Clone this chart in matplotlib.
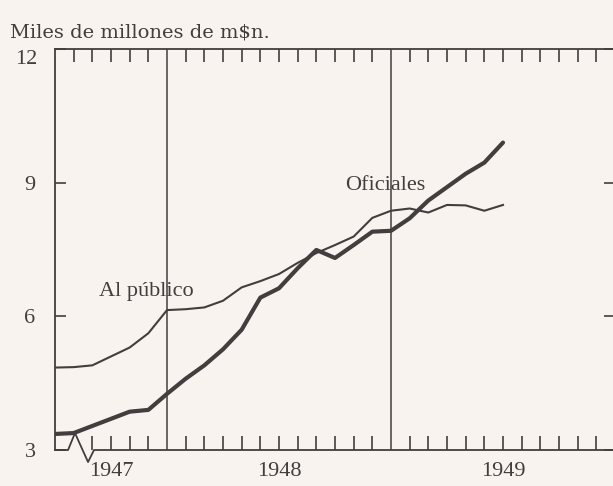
import matplotlib.pyplot as plt
from matplotlib.transforms import offset_copy

# meses contados desde enero de 1947 (6 = julio 1947, 30 = julio 1949)
meses = list(range(6, 31))
al_publico = [4.85, 4.86, 4.90, 5.10, 5.30, 5.62, 6.14, 6.16, 6.20, 6.35, 6.65, 6.79,
              6.95, 7.20, 7.42, 7.60, 7.79, 8.21, 8.37, 8.42, 8.33, 8.50, 8.49, 8.37, 8.50]
oficiales = [3.36, 3.38, 3.54, 3.70, 3.86, 3.90, 4.26, 4.60, 4.90, 5.26, 5.70, 6.42,
             6.63, 7.08, 7.49, 7.31, 7.60, 7.90, 7.92, 8.20, 8.60, 8.90, 9.20, 9.45, 9.90]
anios = ['1947', '1948', '1949']
anios_pos = [9.0, 18.0, 30.0]
y_ticks = [3, 6, 9, 12]

fondo = '#f8f3ee'
tinta = '#433e3e'
serif = ['Liberation Serif', 'DejaVu Serif']

fig = plt.figure(figsize=(6.13, 4.86), dpi=100, facecolor=fondo)
ax = fig.add_axes([55 / 613, 36 / 486, 560 / 613, 401 / 486])
ax.set_facecolor(fondo)

ax.plot(meses, al_publico, color=tinta, lw=1.5, solid_joinstyle='round')
ax.plot(meses, oficiales, color=tinta, lw=3.0, solid_joinstyle='round', solid_capstyle='round')

ax.set_xlim(6, 36)
ax.set_ylim(3, 12)

# divisiones de año
for m in (12, 24):
    ax.axvline(m, color=tinta, lw=1.1)

# eje inferior con quiebre
ax.spines['bottom'].set_visible(False)
ax.plot([6, 6.7, 7.07, 7.77, 8.09, 36], [3, 3, 3.38, 2.73, 3, 3],
        color=tinta, lw=1.3, clip_on=False)
for s in ('left', 'top', 'right'):
    ax.spines[s].set_color(tinta)
    ax.spines[s].set_linewidth(1.3)

ax.set_xticks([m for m in range(8, 36) if m not in (12, 24)])
ax.set_xticklabels([])
ax.tick_params(axis='x', direction='in', length=10, width=1.2, color=tinta, bottom=True)

top = ax.secondary_xaxis('top')
top.set_xticks([m for m in range(7, 36) if m not in (12, 24)])
top.set_xticklabels([])
top.tick_params(direction='in', length=9, width=1.2, color=tinta)
top.spines['top'].set_visible(False)

ax.set_yticks(y_ticks)
ax.set_yticklabels([str(v) if v != 12 else '' for v in y_ticks], family=serif,
                   fontsize=16, color=tinta)
ax.tick_params(axis='y', direction='in', length=8, width=1.2, color=tinta,
               right=True, pad=14)
# el "12" del original queda algo más abajo que la línea superior
ax.text(6, 12, '12', ha='right', va='center', family=serif, fontsize=16, color=tinta,
        transform=offset_copy(ax.transData, fig=fig, x=-18, y=-10, units='dots'),
        clip_on=False)

for lab, pos in zip(anios, anios_pos):
    ax.text(pos, 2.74, lab, ha='center', va='top', family=serif, fontsize=16,
            color=tinta, clip_on=False)

ax.text(10.9, 6.45, 'Al público', ha='center', va='baseline', family=serif,
        fontsize=16, color=tinta)
ax.text(23.7, 8.84, 'Oficiales', ha='center', va='baseline', family=serif,
        fontsize=16, color=tinta)

fig.text(10 / 613, 1 - 37 / 486, 'Miles de millones de m$n.', ha='left', va='baseline',
         family=['DejaVu Serif'], fontsize=14, color=tinta)

fig.savefig('out.png', dpi=100, facecolor=fondo)
